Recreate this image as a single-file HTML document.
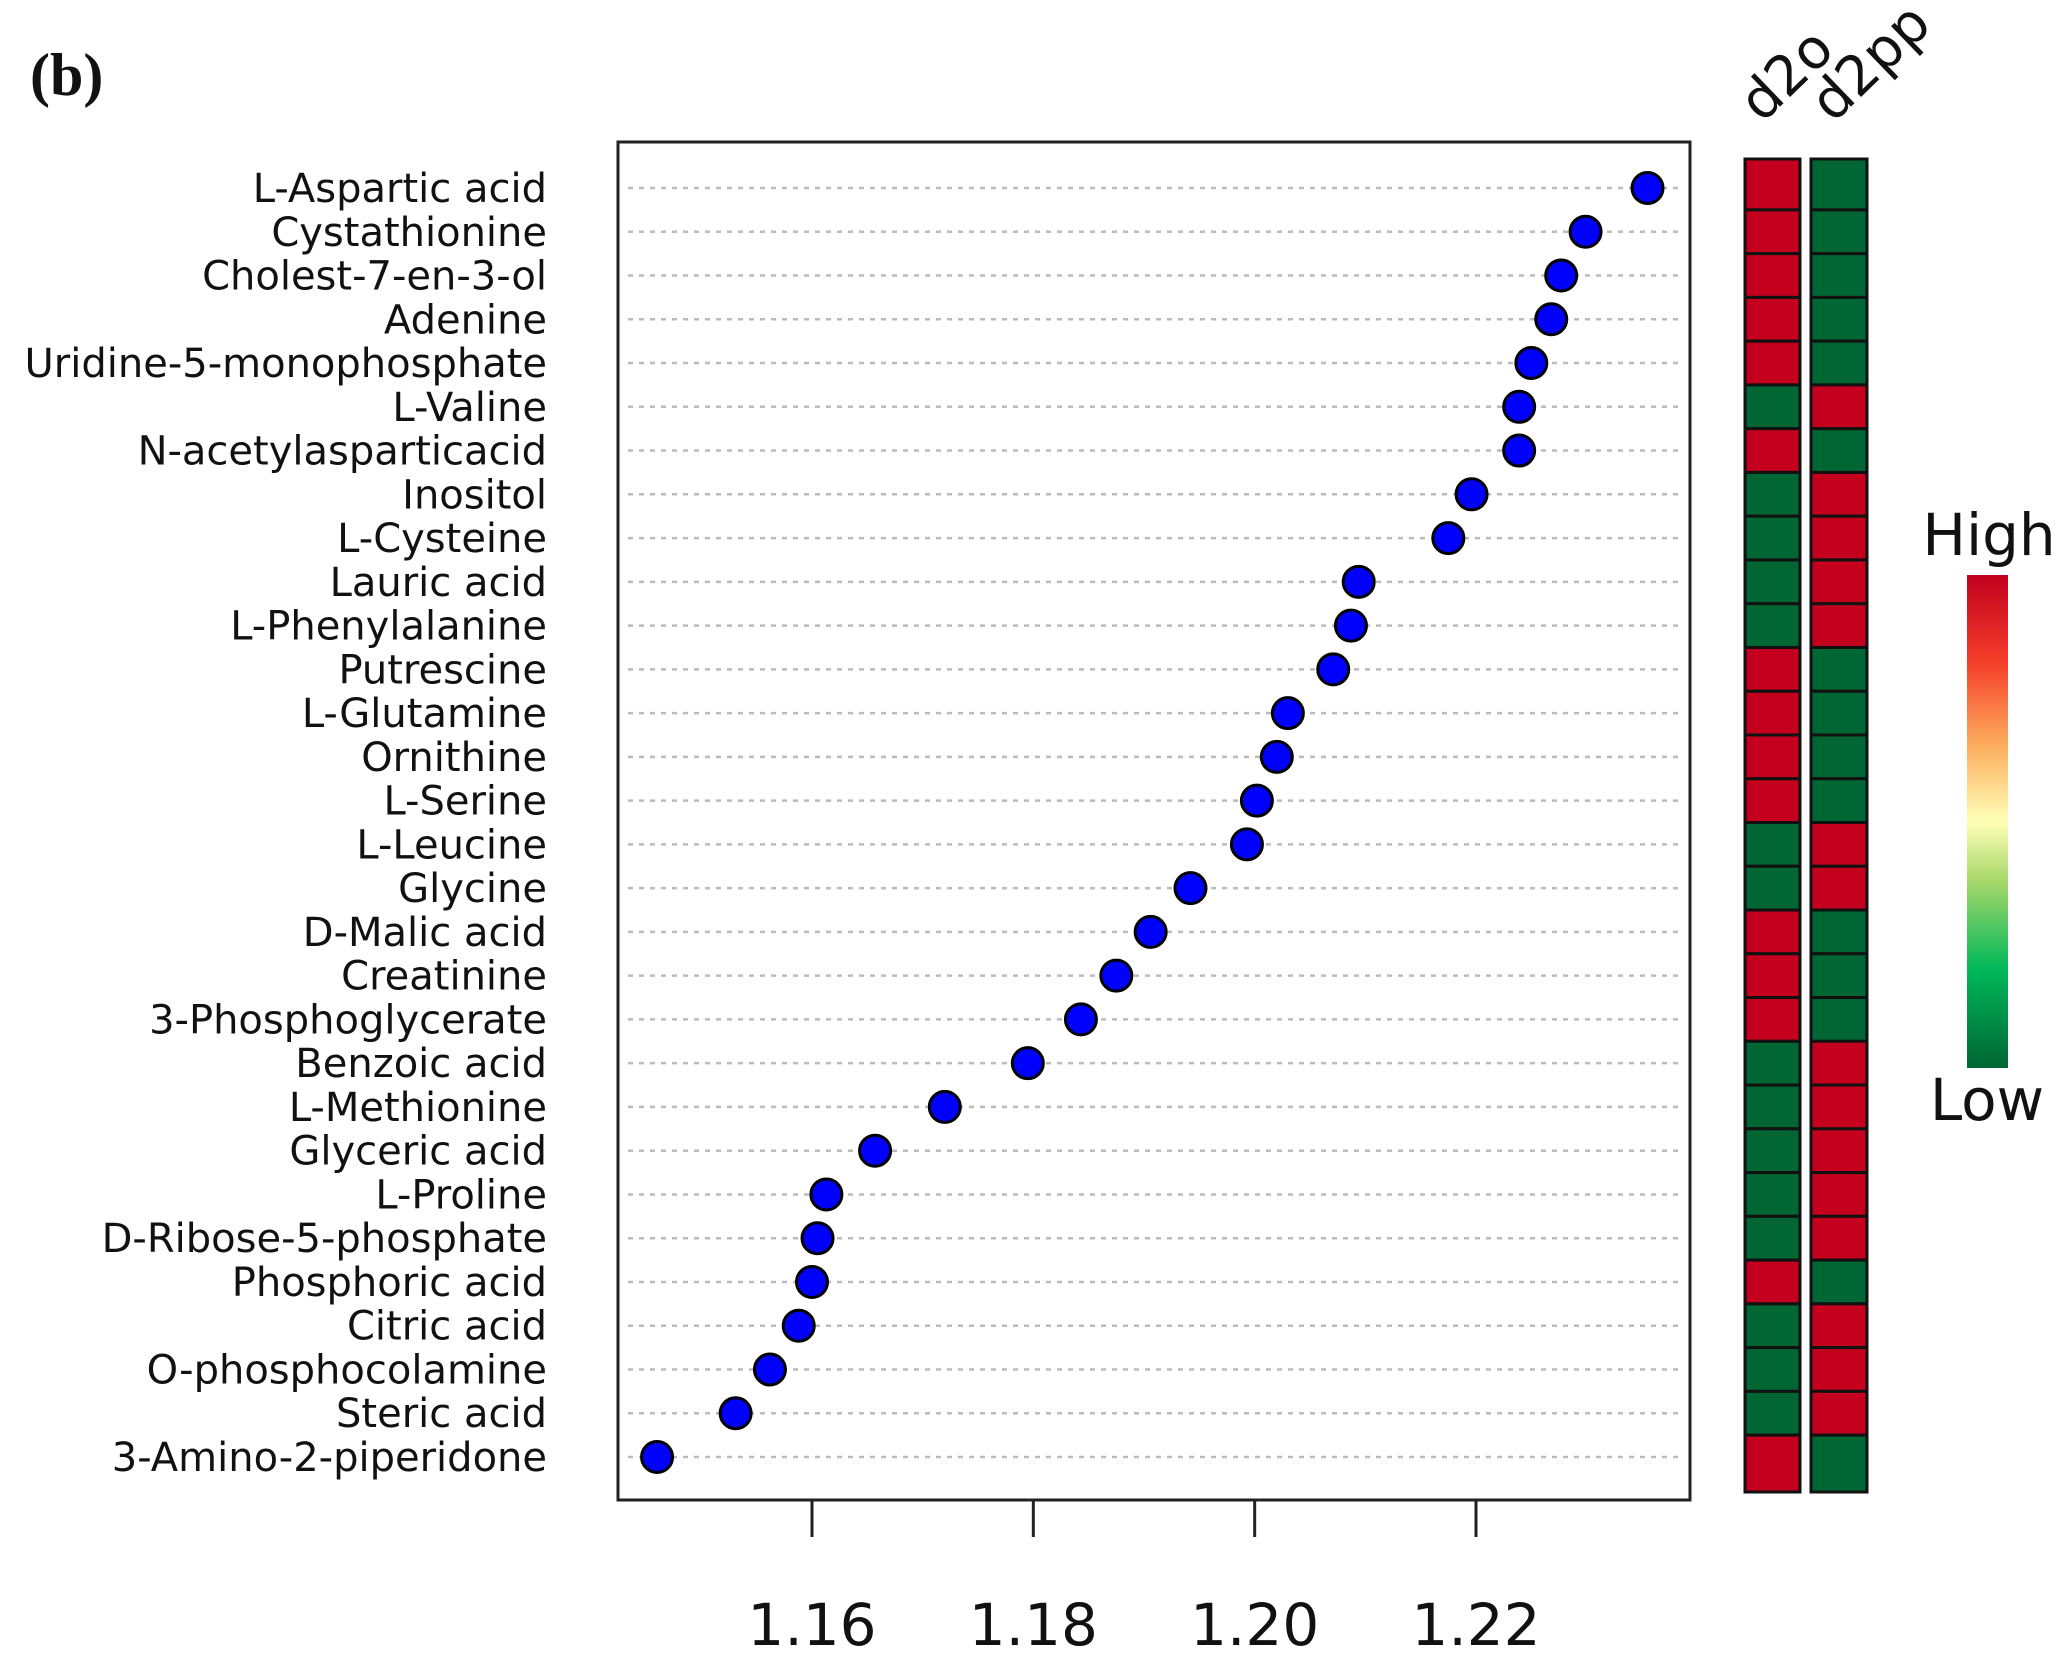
<!DOCTYPE html>
<html><head><meta charset="utf-8">
<style>
html,body{margin:0;padding:0;background:#fff;}
svg{display:block;}
text{font-family:"DejaVu Sans","Liberation Sans",sans-serif;fill:#111;}
</style></head>
<body>
<svg id="chart" width="2066" height="1660" viewBox="0 0 2066 1660" xmlns="http://www.w3.org/2000/svg">
<defs>
<linearGradient id="cbar" x1="0" y1="1" x2="0" y2="0">
<stop offset="0" stop-color="#006633"/>
<stop offset="0.2" stop-color="#00b85a"/>
<stop offset="0.38" stop-color="#a8d86a"/>
<stop offset="0.5" stop-color="#ffffb8"/>
<stop offset="0.65" stop-color="#fdb060"/>
<stop offset="0.82" stop-color="#f5402a"/>
<stop offset="1" stop-color="#c0001e"/>
</linearGradient>
</defs>
<text x="30" y="95" style="font-family:'Liberation Serif',serif;font-weight:bold;font-size:60px">(b)</text>
<rect x="618" y="142" width="1072" height="1358" fill="none" stroke="#222" stroke-width="3"/>
<g id="grid"></g><g id="ylabels"></g><g id="xaxis"></g><g id="dots"></g><g id="heat"></g>
<text transform="translate(1762,124) rotate(-44)" font-size="55">d2o</text>
<text transform="translate(1833,124) rotate(-44)" font-size="55">d2pp</text>
<rect x="1967" y="575" width="41" height="493" fill="url(#cbar)"/>
<text x="1989" y="555" font-size="58" text-anchor="middle">High</text>
<text x="1987" y="1120" font-size="58" text-anchor="middle">Low</text>
</svg>
<script>
const names = ["L-Aspartic acid","Cystathionine","Cholest-7-en-3-ol","Adenine","Uridine-5-monophosphate","L-Valine","N-acetylasparticacid","Inositol","L-Cysteine","Lauric acid","L-Phenylalanine","Putrescine","L-Glutamine","Ornithine","L-Serine","L-Leucine","Glycine","D-Malic acid","Creatinine","3-Phosphoglycerate","Benzoic acid","L-Methionine","Glyceric acid","L-Proline","D-Ribose-5-phosphate","Phosphoric acid","Citric acid","O-phosphocolamine","Steric acid","3-Amino-2-piperidone"];
const values = [1.2355,1.2299,1.2277,1.2268,1.2250,1.2239,1.2239,1.2196,1.2175,1.2094,1.2087,1.2071,1.2030,1.2020,1.2002,1.1993,1.1942,1.1906,1.1875,1.1843,1.1795,1.1720,1.1657,1.1613,1.1605,1.1600,1.1588,1.1562,1.1531,1.1460];
const d2o = [1,1,1,1,1,0,1,0,0,0,0,1,1,1,1,0,0,1,1,1,0,0,0,0,0,1,0,0,0,1];
const d2pp = [0,0,0,0,0,1,0,1,1,1,1,0,0,0,0,1,1,0,0,0,1,1,1,1,1,0,1,1,1,0];
const xTicks = [1.16,1.18,1.20,1.22];
const xTickLabels = ["1.16","1.18","1.20","1.22"];

const NS="http://www.w3.org/2000/svg";
const xs = v => 812 + (v-1.16)*(1476-812)/0.06;
const ys = i => 188 + i*(1457-188)/29;
function mk(tag, attrs, parent){const e=document.createElementNS(NS,tag);for(const k in attrs)e.setAttribute(k,attrs[k]);document.getElementById(parent).appendChild(e);return e;}

names.forEach((n,i)=>{
  const y=ys(i);
  const g=mk('line',{x1:628,x2:1682,y1:y,y2:y,stroke:'#bbb','stroke-width':2.5,'stroke-dasharray':'5 6'},'grid');
  
  
  const t=mk('text',{x:547,y:y+14,'text-anchor':'end','font-size':40},'ylabels');
  t.textContent=n;
  
  
  const c=mk('circle',{cx:xs(values[i]),cy:y,r:15.5,fill:'#0000ff',stroke:'#000','stroke-width':3},'dots');
  
  
  const half=(1457-188)/29/2;
  const top = i===0 ? 159 : y-half;
  const bot = i===names.length-1 ? 1492 : y+half;
  const a=mk('rect',{x:1745,y:top,width:55,height:bot-top,fill:d2o[i]?'#c4001e':'#006633',stroke:'#111','stroke-width':3},'heat');
  
  
  const b=mk('rect',{x:1811,y:top,width:56,height:bot-top,fill:d2pp[i]?'#c4001e':'#006633',stroke:'#111','stroke-width':3},'heat');
  
  
});
xTicks.forEach((v,k)=>{
  const l=mk('line',{x1:xs(v),x2:xs(v),y1:1500,y2:1537,stroke:'#222','stroke-width':3},'xaxis');
  
  
  const t=mk('text',{x:xs(v),y:1645,'text-anchor':'middle','font-size':58},'xaxis');
  t.textContent=xTickLabels[k];
  
  
});
</script>
</body></html>
